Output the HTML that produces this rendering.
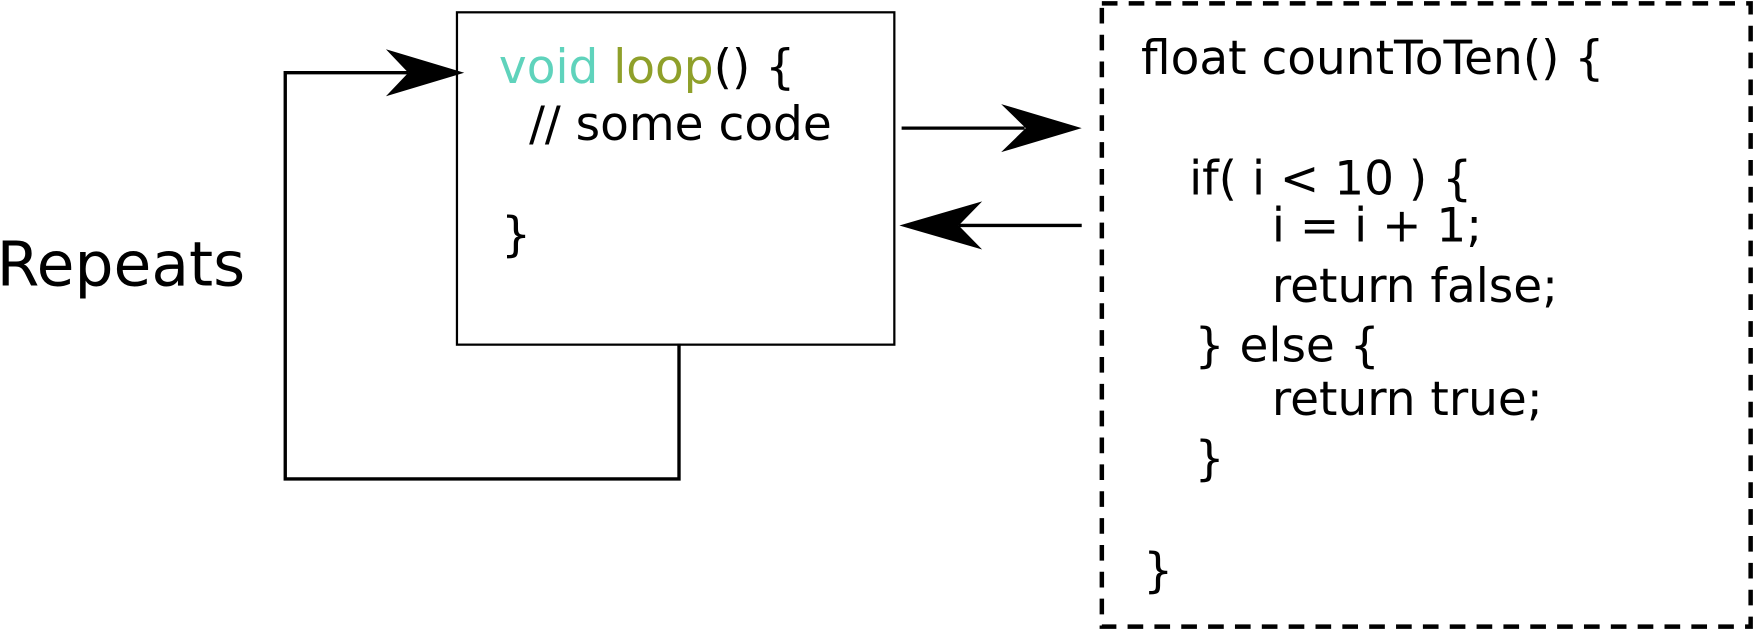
<!DOCTYPE html>
<html><head><meta charset="utf-8"><style>html,body{margin:0;padding:0;background:#fff;overflow:hidden}</style></head>
<body>
<svg width="1754" height="630" viewBox="0 0 1568 563" preserveAspectRatio="none" xmlns="http://www.w3.org/2000/svg" style="display:block">
<g font-family="'DejaVu Sans', 'Liberation Sans', sans-serif" font-size="42" fill="#000">
<rect x="408.5" y="11" width="391" height="297" fill="none" stroke="#000" stroke-width="2"/>
<rect x="985" y="3" width="580" height="557" fill="none" stroke="#000" stroke-width="4" stroke-dasharray="14,10"/>
<g stroke="#000" stroke-width="3" fill="none">
<polyline points="365,65 255,65 255,428 607,428 607,307"/>
<line x1="806" y1="114.5" x2="916" y2="114.5"/>
<line x1="967" y1="201.5" x2="857" y2="201.5"/>
</g>
<polygon points="415,65 345,44 365,65 345,86"/>
<polygon points="967,114.5 895,93 917,114.5 895,136"/>
<polygon points="804,201.5 878,180 857,201.5 878,223"/>
<text x="446" y="74"><tspan fill="#5fd3bc">void </tspan><tspan fill="#8fa02a">loop</tspan>() {</text>
<text x="473" y="125">// some code</text>
<text x="448" y="224">}</text>
<text x="-3" y="255" font-size="55">Repeats</text>
<text x="1020" y="66">float countToTen() {</text>
<text x="1063" y="174">if( i &lt; 10 ) {</text>
<text x="1137" y="216">i = i + 1;</text>
<text x="1137" y="270">return false;</text>
<text x="1068" y="323">} else {</text>
<text x="1137" y="371">return true;</text>
<text x="1068" y="424">}</text>
<text x="1022" y="524">}</text>
</g>
</svg>
</body></html>
